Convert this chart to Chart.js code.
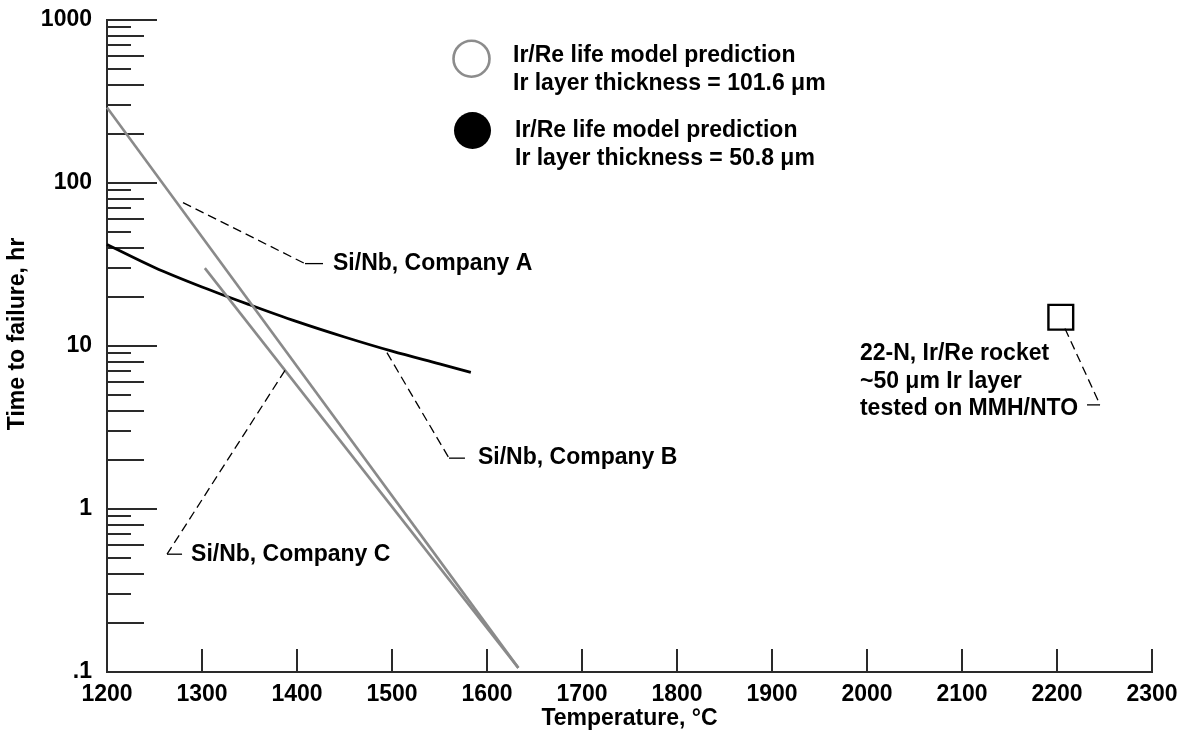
<!DOCTYPE html>
<html><head><meta charset="utf-8">
<script src="https://cdn.jsdelivr.net/npm/chart.js@4.4.1/dist/chart.umd.min.js"></script>
<style>html,body{margin:0;padding:0;background:#fff;overflow:hidden}#wrap{width:1185px;height:739px;position:relative}</style>
</head><body><div id="wrap"><canvas id="c" width="1185" height="739"></canvas></div>
<script>
// ---------------- data ----------------
const xTickValues = [1200,1300,1400,1500,1600,1700,1800,1900,2000,2100,2200,2300];
const yTickValues = [0.1,1,10,100,1000];
const yTickLabels = ['.1','1','10','100','1000'];

const companyA_T  = [1200, 1633];
const companyA_hr = [290, 0.106];
const companyC_T  = [1303, 1633];
const companyC_hr = [30, 0.106];
const companyB_T  = [1200, 1250, 1300, 1350, 1400, 1450, 1500, 1550, 1583];
const companyB_hr = [41.9, 30.3, 23.0, 17.9, 14.1, 11.35, 9.29, 7.76, 6.89];
const rocket_T  = [2204];
const rocket_hr = [15];

const xTitle = 'Temperature, \u00b0C';
const yTitle = 'Time to failure, hr';
const legendLines = [
  ['Ir/Re life model prediction', 'Ir layer thickness = 101.6 \u03bcm'],
  ['Ir/Re life model prediction', 'Ir layer thickness = 50.8 \u03bcm']
];
const labelA = ['Si/Nb, Company A'];
const labelB = ['Si/Nb, Company B'];
const labelC = ['Si/Nb, Company C'];
const labelRocket = ['22-N, Ir/Re rocket', '~50 \u03bcm Ir layer', 'tested on MMH/NTO'];

// ---------------- annotation layout (data coords for leaders) ----------------
const FONT = "bold 23px 'Liberation Sans', Arial, Helvetica, sans-serif";
const leaders = [
  {pts: [[1280, 75.7], [1408.4, 32.0]], end: [1427.4, 32.0], text: labelA, align: 'left', dx: 10},
  {pts: [[1494.7, 9.1], [1560, 2.05]], end: [1576.8, 2.05], text: labelB, align: 'left', dx: 13},
  {pts: [[1387.4, 7.08], [1263.2, 0.528]], end: [1279, 0.528], text: labelC, align: 'left', dx: 9},
  {pts: [[2208.4, 12.8], [2245.3, 4.35]], end: [2231.6, 4.35], text: labelRocket, align: 'blockRight', dx: -9, dy: 4}
];
const legendLayout = [
  {cx: 471.5, cy: 58.7, r: 18, filled: false, tx: 513, base: [62, 90]},
  {cx: 472.5, cy: 130.5, r: 18.5, filled: true, tx: 515, base: [137, 165]}
];

function pairs(xs, ys){ return xs.map((v,i)=>({x:v, y:ys[i]})); }

const tickPlugin = {
  id: 'insideTicks',
  beforeDatasetsDraw(chart){
    const {ctx, scales:{x, y}, chartArea:a} = chart;
    ctx.save();
    ctx.strokeStyle = '#2a2a2a';
    ctx.lineWidth = 2;
    const lenFor = (m) => (m % 2 === 0 ? 37 : 24);
    const drawY = (v, len) => {
      const py = Math.round(y.getPixelForValue(v));
      ctx.beginPath(); ctx.moveTo(a.left, py); ctx.lineTo(a.left + len, py); ctx.stroke();
    };
    for (let i = 0; i < yTickValues.length; i++) {
      const base = yTickValues[i];
      drawY(base, 50);
      if (i < yTickValues.length - 1) {
        for (let m = 2; m <= 9; m++) drawY(base * m, lenFor(m));
      }
    }
    for (const v of xTickValues) {
      const px = Math.round(x.getPixelForValue(v));
      ctx.beginPath(); ctx.moveTo(px, a.bottom); ctx.lineTo(px, a.bottom - 23); ctx.stroke();
    }
    ctx.restore();
  }
};

const annotPlugin = {
  id: 'annot',
  afterDatasetsDraw(chart){
    const {ctx, scales:{x, y}, chartArea:a} = chart;
    ctx.save();
    ctx.font = FONT;
    ctx.fillStyle = '#000';
    ctx.strokeStyle = '#000';
    ctx.lineWidth = 1.3;
    for (const L of leaders) {
      const P = L.pts.map(p => [x.getPixelForValue(p[0]), y.getPixelForValue(p[1])]);
      const E = [x.getPixelForValue(L.end[0]), y.getPixelForValue(L.end[1])];
      ctx.setLineDash([9, 5]);
      ctx.beginPath(); ctx.moveTo(P[0][0], P[0][1]);
      for (let i = 1; i < P.length; i++) ctx.lineTo(P[i][0], P[i][1]);
      ctx.stroke();
      ctx.setLineDash([]);
      const last = P[P.length - 1];
      ctx.beginPath(); ctx.moveTo(last[0], last[1]); ctx.lineTo(E[0], E[1]); ctx.stroke();
      ctx.textBaseline = 'middle';
      ctx.textAlign = 'left';
      if (L.align === 'left') {
        ctx.fillText(L.text[0], E[0] + L.dx, E[1]);
      } else {
        const n = L.text.length;
        const wLast = ctx.measureText(L.text[n - 1]).width;
        const left = E[0] + L.dx - wLast;
        for (let i = 0; i < n; i++) ctx.fillText(L.text[i], left, E[1] + L.dy - (n - 1 - i) * 27.5);
      }
    }
    // y-axis title
    ctx.save();
    ctx.translate(18, (a.top + a.bottom) / 2 - 12);
    ctx.rotate(-Math.PI / 2);
    ctx.textAlign = 'center';
    ctx.textBaseline = 'middle';
    ctx.fillText(yTitle, 0, 0);
    ctx.restore();
    // legend
    ctx.textBaseline = 'alphabetic';
    ctx.textAlign = 'left';
    legendLayout.forEach((g, i) => {
      ctx.beginPath(); ctx.arc(g.cx, g.cy, g.r, 0, Math.PI * 2);
      if (g.filled) { ctx.fillStyle = '#000'; ctx.fill(); }
      else { ctx.strokeStyle = '#8c8c8c'; ctx.lineWidth = 2.6; ctx.stroke(); }
      ctx.fillStyle = '#000';
      legendLines[i].forEach((t, j) => ctx.fillText(t, g.tx, g.base[j]));
    });
    ctx.restore();
  }
};

Chart.defaults.font.family = "'Liberation Sans', Arial, Helvetica, sans-serif";
Chart.defaults.font.size = 23;
Chart.defaults.font.weight = 'bold';
Chart.defaults.color = '#000';

new Chart(document.getElementById('c'), {
  type: 'line',
  data: {
    datasets: [
      {label: 'Si/Nb, Company A', data: pairs(companyA_T, companyA_hr), borderColor: '#8a8a8a', borderWidth: 2.6, pointRadius: 0, fill: false},
      {label: 'Si/Nb, Company C', data: pairs(companyC_T, companyC_hr), borderColor: '#8a8a8a', borderWidth: 2.6, pointRadius: 0, fill: false},
      {label: 'Si/Nb, Company B', data: pairs(companyB_T, companyB_hr), borderColor: '#000', borderWidth: 2.8, pointRadius: 0, fill: false, cubicInterpolationMode: 'monotone'},
      {label: '22-N, Ir/Re rocket', data: pairs(rocket_T, rocket_hr), showLine: false, pointStyle: 'rect', pointRadius: 17.5, pointBorderColor: '#000', pointBackgroundColor: '#fff', pointBorderWidth: 2.4}
    ]
  },
  options: {
    responsive: false,
    animation: false,
    devicePixelRatio: 1,
    clip: false,
    layout: {padding: {left: 0, right: 33, top: 19, bottom: 0}},
    plugins: {legend: {display: false}, tooltip: {enabled: false}},
    scales: {
      x: {
        type: 'linear', min: 1200, max: 2300,
        afterBuildTicks: s => { s.ticks = xTickValues.map(v => ({value: v})); },
        afterFit: s => { s.height = 67; s.paddingLeft = 0; s.paddingRight = 0; },
        ticks: {padding: 9, maxRotation: 0, autoSkip: false, callback: v => String(v), color: '#000'},
        grid: {display: true, drawOnChartArea: false, drawTicks: false, color: 'rgba(0,0,0,0)'},
        border: {display: true, color: '#2a2a2a', width: 2},
        title: {display: true, text: xTitle, color: '#000', padding: {top: 0, bottom: 7}}
      },
      y: {
        type: 'logarithmic', min: 0.1, max: 1000,
        afterBuildTicks: s => { s.ticks = yTickValues.map(v => ({value: v})); },
        afterFit: s => { s.width = 107; s.paddingTop = 0; s.paddingBottom = 0; },
        ticks: {padding: 15, autoSkip: false, callback: (v) => { const i = yTickValues.indexOf(v); return i >= 0 ? yTickLabels[i] : ''; }, color: '#000'},
        grid: {display: true, drawOnChartArea: false, drawTicks: false, color: 'rgba(0,0,0,0)'},
        border: {display: true, color: '#2a2a2a', width: 2},
        title: {display: false}
      }
    }
  },
  plugins: [tickPlugin, annotPlugin]
});
</script></body></html>
